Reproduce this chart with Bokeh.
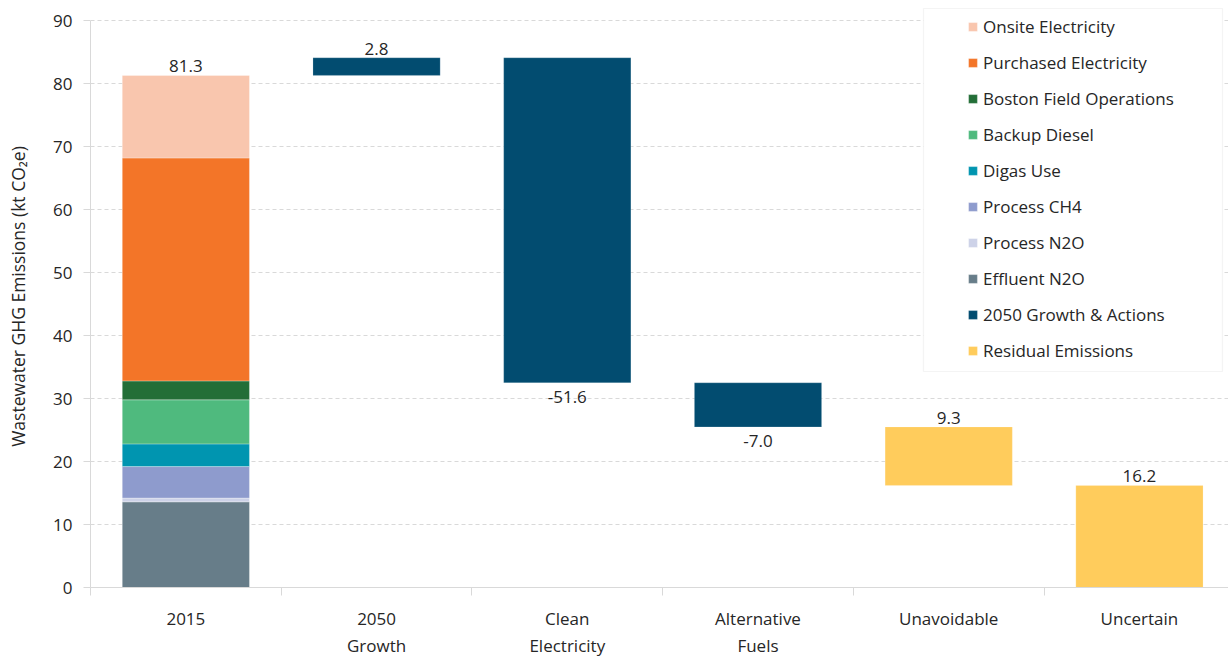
from bokeh.plotting import figure
from bokeh.models import ColumnDataSource, Range1d, FixedTicker, Legend, LegendItem, BoxAnnotation
from bokeh.embed import file_html
from bokeh.resources import INLINE
from bokeh.core.properties import value

# ---------------- data ----------------
categories = ["2015", "2050\nGrowth", "Clean\nElectricity", "Alternative\nFuels", "Unavoidable", "Uncertain"]

components = ["Effluent N2O", "Process N2O", "Process CH4", "Digas Use", "Backup Diesel",
              "Boston Field Operations", "Purchased Electricity", "Onsite Electricity"]
values_2015 = [13.6, 0.6, 5.0, 3.6, 7.0, 3.0, 35.4, 13.1]
component_colors = ["#677D89", "#CDD2E8", "#8E9BCD", "#0095B0", "#4FBA7E",
                    "#236E37", "#F37528", "#F9C6AE"]

action_categories = ["2050\nGrowth", "Clean\nElectricity", "Alternative\nFuels"]
action_changes = [2.8, -51.6, -7.0]
action_name = "2050 Growth & Actions"
action_color = "#024C70"

residual_categories = ["Unavoidable", "Uncertain"]
residual_values = [9.3, 16.2]
residual_name = "Residual Emissions"
residual_color = "#FFCC5C"

y_ticks = [0, 10, 20, 30, 40, 50, 60, 70, 80, 90]

FONT = "Open Sans"
TXT = "#262626"
GRID = "#D9D9D9"

# ------------- derived positions -------------
xpos = {c: i + 0.5 for i, c in enumerate(categories)}
total_2015 = round(sum(values_2015), 1)

level = total_2015
act_x, act_bottom, act_top, act_lbl_y = [], [], [], []
for c, d in zip(action_categories, action_changes):
    new = round(level + d, 1)
    act_x.append(xpos[c])
    act_bottom.append(min(level, new))
    act_top.append(max(level, new))
    act_lbl_y.append(new)
    level = new

res_x, res_bottom, res_top = [], [], []
for c, v in zip(residual_categories, residual_values):
    new = round(level - v, 1)
    res_x.append(xpos[c])
    res_bottom.append(new)
    res_top.append(level)
    level = new

p = figure(width=1228, height=660, output_backend="svg", toolbar_location=None,
           x_range=Range1d(0, 5.967), y_range=Range1d(0, 92.4),
           min_border_left=90, min_border_right=0, min_border_top=5, min_border_bottom=73)
p.outline_line_color = None
p.background_fill_color = "white"
p.border_fill_color = "white"

# grid
p.xgrid.grid_line_color = None
p.ygrid.grid_line_color = GRID
p.ygrid.grid_line_dash = "4 3"
p.ygrid.grid_line_width = 1

# y axis
p.yaxis.ticker = FixedTicker(ticks=y_ticks)
p.yaxis.bounds = (0, 90)
p.yaxis.axis_line_color = GRID
p.yaxis.major_tick_line_color = GRID
p.yaxis.major_tick_out = 7
p.yaxis.major_tick_in = 0
p.yaxis.minor_tick_line_color = None
p.yaxis.major_label_standoff = 11
p.yaxis.major_label_text_font = FONT
p.yaxis.major_label_text_font_size = "17px"
p.yaxis.major_label_text_color = TXT
p.yaxis.axis_label = "Wastewater GHG Emissions (kt CO\u2082e)"
p.yaxis.axis_label_text_font = FONT
p.yaxis.axis_label_text_font_size = "17.5px"
p.yaxis.axis_label_text_font_style = "normal"
p.yaxis.axis_label_text_color = TXT
p.yaxis.axis_label_standoff = 20

# x axis
p.xaxis.ticker = FixedTicker(ticks=[xpos[c] for c in categories],
                             minor_ticks=[i for i in range(len(categories) + 1)])
p.xaxis.major_label_overrides = {xpos[c]: c for c in categories}
p.xaxis.axis_line_color = GRID
p.xaxis.major_tick_line_color = None
p.xaxis.major_tick_out = 0
p.xaxis.major_tick_in = 0
p.xaxis.minor_tick_line_color = GRID
p.xaxis.minor_tick_out = 8
p.xaxis.minor_tick_in = 0
p.xaxis.major_label_standoff = 11
p.xaxis.major_label_text_font = FONT
p.xaxis.major_label_text_font_size = "17px"
p.xaxis.major_label_text_color = TXT

# 2015 stacked bar
src2015 = ColumnDataSource(dict(x=[xpos["2015"]], **{n: [v] for n, v in zip(components, values_2015)}))
stack_renderers = p.vbar_stack(components, x="x", width=0.667, source=src2015,
                               fill_color=component_colors, line_color="white",
                               line_width=0.6, line_alpha=0.5)

# waterfall actions
act_src = ColumnDataSource(dict(x=act_x, bottom=act_bottom, top=act_top))
act_r = p.vbar(x="x", bottom="bottom", top="top", width=0.667, source=act_src,
               fill_color=action_color, line_color="white", line_width=0.6, line_alpha=0.3)

res_src = ColumnDataSource(dict(x=res_x, bottom=res_bottom, top=res_top))
res_r = p.vbar(x="x", bottom="bottom", top="top", width=0.667, source=res_src,
               fill_color=residual_color, line_color="white", line_width=0.6, line_alpha=0.3)

# data labels
above_x, above_y, above_t = [xpos["2015"]], [total_2015], [f"{total_2015:.1f}"]
below_x, below_y, below_t = [], [], []
for x, d, yl in zip(act_x, action_changes, act_lbl_y):
    if d >= 0:
        above_x.append(x); above_y.append(yl); above_t.append(f"{d:.1f}")
    else:
        below_x.append(x); below_y.append(yl); below_t.append(f"{d:.1f}")
for x, t, v in zip(res_x, res_top, residual_values):
    above_x.append(x); above_y.append(t); above_t.append(f"{v:.1f}")

p.text(x=above_x, y=above_y, text=above_t, text_align="center", text_baseline="bottom",
       y_offset=-3, text_font=value(FONT), text_font_size="17px", text_color=TXT)
p.text(x=below_x, y=below_y, text=below_t, text_align="center", text_baseline="top",
       y_offset=8, text_font=value(FONT), text_font_size="17px", text_color=TXT)

# legend frame
box = BoxAnnotation(left=833, right=1132, top=579, bottom=216,
                    left_units="screen", right_units="screen",
                    top_units="screen", bottom_units="screen",
                    fill_color="white", fill_alpha=1.0,
                    line_color=GRID, line_width=1.2)
p.add_layout(box)

items = [LegendItem(label=n, renderers=[r]) for n, r in zip(components[::-1], stack_renderers[::-1])]
items.append(LegendItem(label=action_name, renderers=[act_r]))
items.append(LegendItem(label=residual_name, renderers=[res_r]))
legend = Legend(items=items, location="top_right", margin=0, padding=10,
                glyph_width=11, glyph_height=11, label_standoff=5,
                label_width=235, label_height=23, spacing=13,
                label_text_font=FONT, label_text_font_size="17px", label_text_color=TXT,
                border_line_alpha=0, background_fill_alpha=0)
p.add_layout(legend)

open("out.html", "w").write(file_html(p, INLINE))
